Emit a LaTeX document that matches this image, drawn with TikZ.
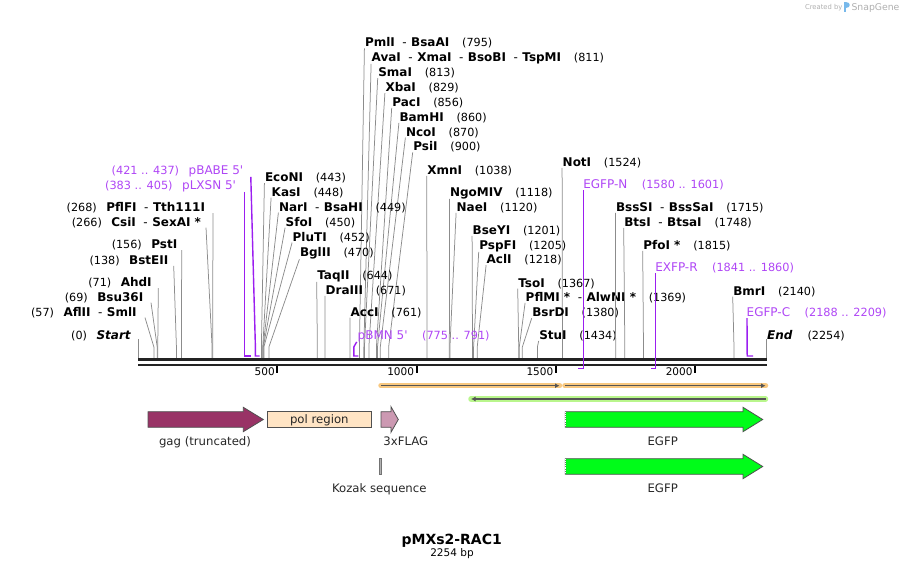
\documentclass[tikz,border=0pt]{standalone}
\usepackage{fontspec}
\setmainfont{DejaVu Sans}
\usetikzlibrary{arrows.meta}
\definecolor{elc}{RGB}{140,140,140}
\definecolor{prc}{RGB}{155,30,240}
\definecolor{prt}{RGB}{175,70,245}
\definecolor{bbc}{RGB}{35,35,35}
\definecolor{fdr}{RGB}{80,80,80}
\definecolor{gagc}{RGB}{153,51,102}
\definecolor{polc}{RGB}{255,228,196}
\definecolor{flagc}{RGB}{204,153,178}
\definecolor{egfpc}{RGB}{0,252,25}
\definecolor{orglow}{RGB}{248,200,128}
\definecolor{grglow}{RGB}{185,246,140}
\definecolor{orfc}{RGB}{85,85,85}
\definecolor{logoc}{RGB}{175,175,175}
\definecolor{logob}{RGB}{120,185,235}
\newcommand{\enm}[1]{{\fontsize{12}{14}\selectfont\bfseries #1}}
\newcommand{\enb}[1]{{\fontsize{11.2}{13}\selectfont(#1)}}
\newcommand{\sepd}{\hspace{7.5pt}{\mdseries -}\hspace{4.5pt}}
\newcommand{\rgap}{\hspace{12.8pt}}
\newcommand{\lgap}{\hspace{9.5pt}}
\newcommand{\pnm}[1]{{\fontsize{12}{14}\selectfont #1}}
\newcommand{\pnb}[1]{{\fontsize{11.3}{13}\selectfont(#1)}}
\newcommand{\sq}{\textquotesingle}
\begin{document}
\begin{tikzpicture}[x=1pt,y=-1pt,
  lab/.style={inner sep=0pt,outer sep=0pt},
  eline/.style={draw=elc,line width=0.75pt},
  pline/.style={draw=prc,line width=1.4pt},
  ptext/.style={lab,text=prt},
  feat/.style={draw=fdr,line width=0.8pt},
  flab/.style={lab,font=\fontsize{11.7}{14}\selectfont,text=black!85},
  ticklab/.style={lab,anchor=base east,font=\fontsize{10.5}{12}\selectfont},
  orfline/.style={draw=orfc,line width=1.5pt,-{Latex[length=4.5pt,width=5pt]}}]
\useasboundingbox (0,0) rectangle (905,569);

% ---------- right-hand enzyme labels ----------
\foreach \x/\y/\s/\n [count=\i] in {
  365/42.5/795/{PmlI\sepd BsaAI},
  371.7/57/811/{AvaI\sepd XmaI\sepd BsoBI\sepd TspMI},
  378.3/72.3/813/{SmaI},
  385.5/87.3/829/{XbaI},
  392.3/102/856/{PacI},
  399.5/117/860/{BamHI},
  406/131.7/870/{NcoI},
  413.3/146.5/900/{PsiI},
  427.3/170/1038/{XmnI},
  450/192/1118/{NgoMIV},
  456.7/207/1120/{NaeI},
  472.7/230/1201/{BseYI},
  479.3/245/1205/{PspFI},
  486.7/259.3/1218/{AclI},
  562.7/162/1524/{NotI},
  518.3/282.7/1367/{TsoI},
  525.7/297/1369/{PflMI *\sepd AlwNI *},
  532.3/312.3/1380/{BsrDI},
  539.3/335/1434/{StuI},
  616/207/1715/{BssSI\sepd BssSaI},
  624.3/222/1748/{BtsI\sepd BtsaI},
  643.3/245/1815/{PfoI *},
  733.3/290.7/2140/{BmrI},
  265/177.3/443/{EcoNI},
  271.7/191.7/448/{KasI},
  279/206.7/449/{NarI\sepd BsaHI},
  285.7/221.7/450/{SfoI},
  292.7/236.7/452/{PluTI},
  300/252.3/470/{BglII},
  317.3/275/644/{TaqII},
  325.7/290/671/{DraIII},
  350.7/311.7/761/{AccI}}
{
  \pgfmathsetmacro\sx{138+\s*0.2785}
  \node[lab,anchor=base west] (r\i) at (\x,\y+4.4) {\enm{\n}\rgap\enb{\s}};
  \coordinate (rk\i) at (\sx,347);
  \coordinate (rs\i) at (\sx,358.3);
  \draw[eline] ([xshift=-0.6pt]r\i.south west) -- (rk\i) -- (rs\i);
}

% ---------- left-hand enzyme labels ----------
\foreach \s/\xe/\y/\lx/\n [count=\i] in {
  268/205/207.3/213/{PflFI\sepd Tth111I},
  266/201/221.7/206/{CsiI\sepd SexAI *},
  156/177.3/244.3/181.7/{PstI},
  138/168.3/260/173.7/{BstEII},
  71/151.7/282.3/158.3/{AhdI},
  69/143.3/296.7/151/{Bsu36I},
  57/136.7/311.7/145/{AflII\sepd SmlI}}
{
  \pgfmathsetmacro\sx{138+\s*0.2785}
  \node[lab,anchor=base east] (l\i) at (\xe,\y+4.4) {\enb{\s}\lgap\enm{\n}};
  \coordinate (lk\i) at (\sx,347);
  \coordinate (ls\i) at (\sx,358.3);
  \draw[eline] ([xshift={\lx-\xe}]l\i.south east) -- (lk\i) -- (ls\i);
}

% ---------- Start / End ----------
\node[lab,anchor=base east] (start) at (130.7,339.4) {\enb{0}\lgap{\fontsize{12}{14}\selectfont\bfseries\itshape Start}};
\coordinate (starts) at (138.2,358.3);
\draw[eline] ([xshift=7.5pt]start.base east) -- (starts);
\node[lab,anchor=base west] (endn) at (767.2,339.4) {{\fontsize{12}{14}\selectfont\bfseries\itshape End}\hspace{15pt}\enb{2254}};
\coordinate (ends) at (766.4,358.3);
\draw[eline] ([xshift=-0.8pt]endn.base west) -- (ends);

% ---------- backbone ----------
\coordinate (bbL) at (138,359.8);
\coordinate (bbR) at (766.8,359.8);
\coordinate (bbL2) at (138,364.8);
\coordinate (bbR2) at (766.8,364.8);
\draw[bbc,line width=3pt] (bbL) -- (bbR);
\draw[bbc,line width=2.6pt] (bbL2) -- (bbR2);

% ticks
\foreach \t in {500,1000,1500,2000}{
  \pgfmathsetmacro\tx{138+\t*0.2785}
  \fill[black] (\tx-1,366.3) rectangle (\tx+1,373);
  \node[ticklab] (tk\t) at (\tx-2.5,375.8) {\t};
}

% ---------- primers ----------
\node[ptext,anchor=base east] (pbabe) at (243.3,174.4) {\pnb{421 .. 437}\lgap\pnm{pBABE 5\sq}};
\coordinate (pbabe1) at (255.4,347);
\coordinate (pbabe2) at (255.4,356);
\coordinate (pbabe3) at (259.7,356);
\draw[pline,line join=miter] ([xshift=7.5pt]pbabe.south east) -- (pbabe1) -- (pbabe2) -- (pbabe3);

\node[ptext,anchor=base east] (plxsn) at (236,189.4) {\pnb{383 .. 405}\lgap\pnm{pLXSN 5\sq}};
\coordinate (plxsn1) at (244.7,356);
\coordinate (plxsn2) at (250.9,356);
\draw[pline] ([xshift=8.7pt]plxsn.south east) -- (plxsn1) -- (plxsn2);

\node[ptext,anchor=base west] (pbmn) at (357.7,339.4) {\pnm{pBMN 5\sq}\hspace{14.5pt}\pnb{775 .. 791}};
\coordinate (pbmn1) at (353.8,347);
\coordinate (pbmn2) at (353.8,356);
\coordinate (pbmn3) at (358.3,356);
\draw[pline] ([xshift=-1pt]pbmn.south west) -- (pbmn1) -- (pbmn2) -- (pbmn3);

\node[ptext,anchor=base west] (egfpn) at (583.3,188.7) {\pnm{EGFP-N}\hspace{14.5pt}\pnb{1580 .. 1601}};
\coordinate (egfpn1) at (583.6,368.3);
\coordinate (egfpn2) at (578,368.3);
\draw[pline] ([xshift=0.3pt]egfpn.south west) -- (egfpn1) -- (egfpn2);

\node[ptext,anchor=base west] (exfpr) at (655.3,271.7) {\pnm{EXFP-R}\hspace{14.5pt}\pnb{1841 .. 1860}};
\coordinate (exfpr1) at (655.6,368.3);
\coordinate (exfpr2) at (650.7,368.3);
\draw[pline] ([xshift=0.3pt]exfpr.south west) -- (exfpr1) -- (exfpr2);

\node[ptext,anchor=base west] (egfpc) at (746.7,316.7) {\pnm{EGFP-C}\hspace{14.5pt}\pnb{2188 .. 2209}};
\coordinate (egfpc1) at (747.2,356);
\coordinate (egfpc2) at (753.2,356);
\draw[pline] ([xshift=0.3pt]egfpc.south west) -- (egfpc1) -- (egfpc2);

% ---------- ORFs ----------
\coordinate (o1a) at (381,385.7);
\coordinate (o1b) at (559.5,385.7);
\coordinate (o2a) at (565,385.7);
\coordinate (o2b) at (765.5,385.7);
\coordinate (o3a) at (765.5,399);
\coordinate (o3b) at (471,399);
\draw[orglow,line width=5.5pt,line cap=round] (o1a) -- (o1b);
\draw[orglow,line width=5.5pt,line cap=round] (o2a) -- (o2b);
\draw[grglow,line width=5.5pt,line cap=round] (o3a) -- (o3b);
\draw[orfline] (o1a) -- (o1b);
\draw[orfline] (o2a) -- (o2b);
\draw[orfline] (o3a) -- (o3b);

% ---------- features ----------
\draw[feat,fill=gagc] (148,411.7) -- (243.3,411.7) -- (243.3,407.3) -- (263.3,419.5) -- (243.3,431.7) -- (243.3,427.3) -- (148,427.3) -- cycle;
\node[flab,anchor=base] (gagl) at (205,445) {gag (truncated)};

\draw[feat,fill=polc] (267,411.7) rectangle (371.7,427.3);
\node[flab,anchor=base] (poll) at (319.3,423.6) {pol region};

\draw[feat,fill=flagc] (381,411.7) -- (391,411.7) -- (391,406.7) -- (398.3,419.5) -- (391,432.3) -- (391,427.3) -- (381,427.3) -- cycle;
\node[flab,anchor=base] (flagl) at (405.8,445) {3xFLAG};

\draw[draw=fdr!80,line width=0.6pt,fill=black!30] (379,458) rectangle (381.5,474);
\node[flab,anchor=base] (kozl) at (379.3,492) {Kozak sequence};

\foreach \dy [count=\k] in {0,47}{
  \draw[feat,fill=egfpc] (565.3,411.7+\dy) -- (743,411.7+\dy) -- (743,407.3+\dy) -- (762.7,419.5+\dy) -- (743,431.7+\dy) -- (743,427.3+\dy) -- (565.3,427.3+\dy) -- cycle;
  \draw[white,line width=0.6pt,dash pattern=on 0.9pt off 0.9pt] (565.3,412.3+\dy) -- (565.3,426.7+\dy);
  \node[flab,anchor=base] (egfp\k) at (662.7,445+\dy) {EGFP};
}

% ---------- title ----------
\node[lab,anchor=base] (title) at (451.7,544) {\fontsize{14}{16}\selectfont\bfseries pMXs2-RAC1};
\node[lab,anchor=base] (size) at (452,556.5) {\fontsize{10.5}{12}\selectfont 2254 bp};

% ---------- logo ----------
\node[lab,anchor=base west,text=logoc] (cby) at (805,10) {\fontsize{6.8}{8}\selectfont Created by};
\fill[logob] (844,2.5) rectangle (845.8,12.5);
\fill[logob] (845.8,2.5) .. controls (850.5,2.5) and (850.5,8.3) .. (845.8,8.3) -- cycle;
\node[lab,anchor=base west,text=logoc] (sg) at (851.5,10.8) {\fontsize{9.3}{11}\selectfont SnapGene};
\end{tikzpicture}
\end{document}
